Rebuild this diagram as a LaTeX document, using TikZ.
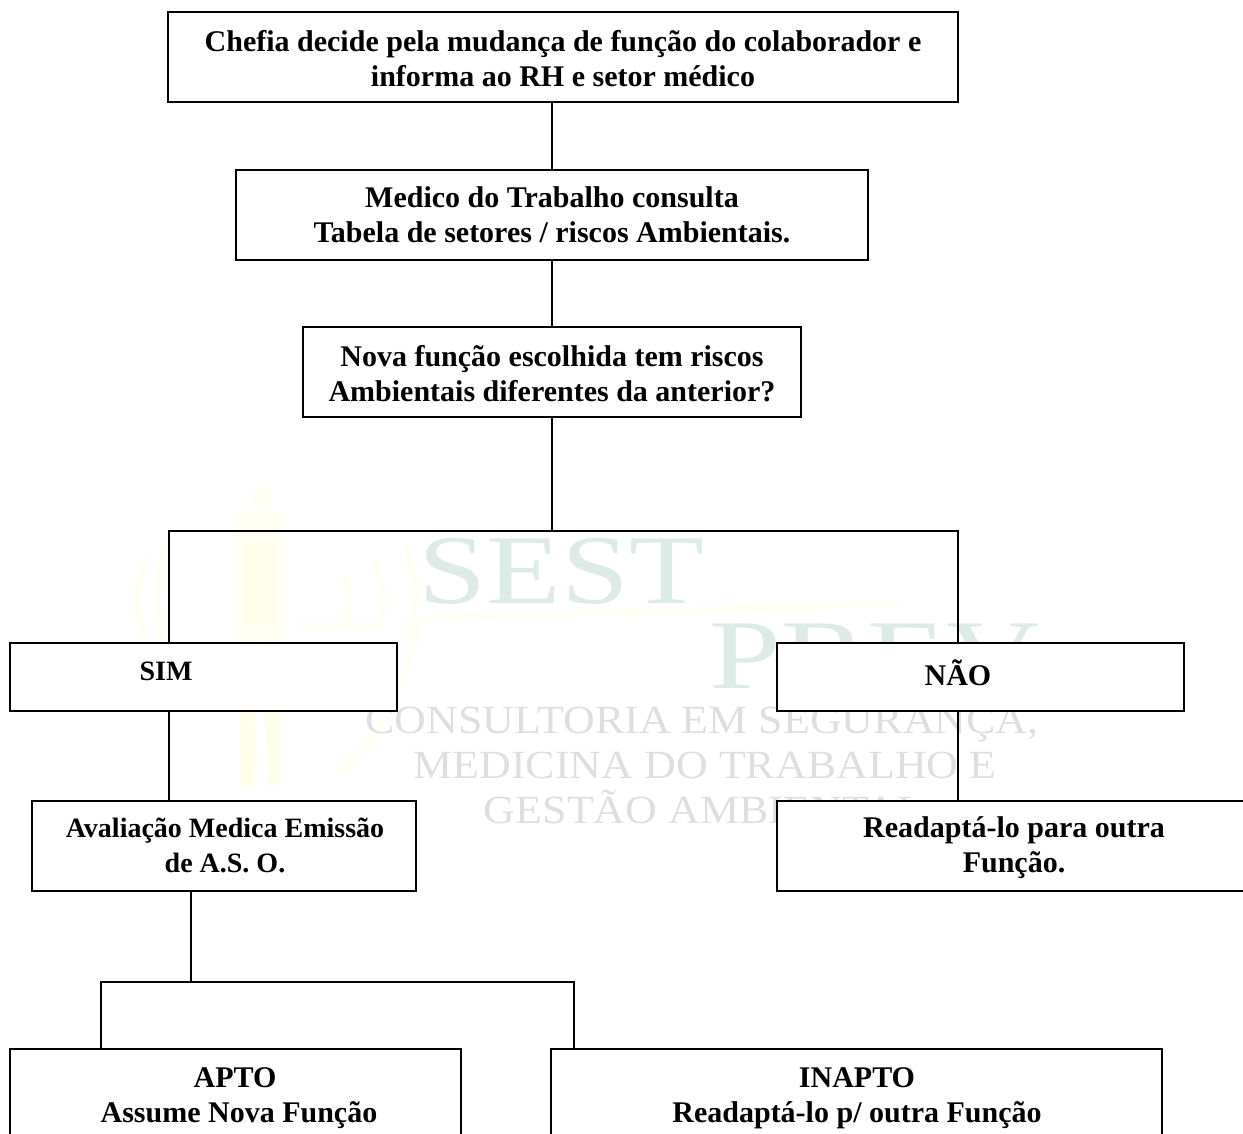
\documentclass[tikz,border=0pt]{standalone}
\usepackage{fontspec}
\setmainfont{Liberation Serif}
\definecolor{wmgreen}{HTML}{DCEBE6}
\definecolor{wmgrey}{HTML}{DEDEDE}
\definecolor{wmyellow}{HTML}{FFFEEA}
\definecolor{wmpale}{HTML}{FFFFF4}
\tikzset{
  x=0.75pt,y=-0.75pt,
  boxnode/.style={draw=black,line width=1.1pt,fill=white,rectangle,inner sep=0pt},
  lab/.style={font=\fontsize{22.5}{26.2}\selectfont\bfseries,align=center,inner sep=0pt},
  labs/.style={font=\fontsize{21}{26.2}\selectfont\bfseries,align=center,inner sep=0pt},
  conn/.style={draw=black,line width=1.1pt},
  wmbig/.style={text=wmgreen,inner sep=0pt,anchor=base,yscale=1,font=\fontsize{74}{74}\selectfont},
  wmsmall/.style={text=wmgrey,inner sep=0pt,anchor=base,xscale=1.1,font=\fontsize{30}{30}\selectfont},
  wmarc/.style={draw=wmpale,line width=5pt,line cap=round}
}
\newcommand{\bx}[5]{\node[boxnode,minimum width=#4*0.75pt-#2*0.75pt,minimum height=#5*0.75pt-#3*0.75pt] (#1) at ({(#2+#4)/2},{(#3+#5)/2}) {};}
\begin{document}
\begin{tikzpicture}
\useasboundingbox (0,0) rectangle (1243,1134);
\clip (0,0) rectangle (1243,1134);
% watermark
\fill[wmpale] (262,498) ellipse[x radius=11,y radius=12];
\fill[wmpale] (233,513) rectangle (285,640);
\fill[wmyellow] (243,540) rectangle (277,625);
\fill[wmyellow] (240,640) -- (258,640) -- (254,785) -- (240,785) -- cycle;
\fill[wmyellow] (262,640) -- (280,640) -- (280,785) -- (268,785) -- cycle;
\draw[wmarc] (145,560) .. controls (135,590) and (135,610) .. (145,640);
\draw[wmarc] (165,545) .. controls (155,580) and (155,615) .. (165,650);
\draw[wmarc] (345,575) .. controls (350,590) and (350,605) .. (345,620);
\draw[wmarc] (375,560) .. controls (385,590) and (385,610) .. (378,630);
\draw[wmarc] (405,545) .. controls (418,580) and (418,610) .. (405,640);
\draw[wmarc] (300,625) -- (370,625);
\draw[wmarc] (420,622) .. controls (405,680) and (385,730) .. (345,770);
\draw[wmarc] (420,618) .. controls (600,612) and (760,608) .. (900,604);
\node[wmbig,xscale=1.24] (wmsest) at (561,603) {SEST};
\node[wmbig,xscale=1.31] (wmprev) at (874.5,688) {PREV};
\node[wmsmall] (wmc) at (702,733) {CONSULTORIA EM SEGURANÇA,};
\node[wmsmall] (wmm) at (705,778) {MEDICINA DO TRABALHO E};
\node[wmsmall] (wmg) at (704,823) {GESTÃO AMBIENTAL};
% boxes
\bx{chefia}{168}{12}{958}{102}
\bx{medico}{236}{170}{868}{260}
\bx{nova}{303}{327}{801}{417}
\bx{sim}{10}{643}{397}{711}
\bx{nao}{777}{643}{1184}{711}
\bx{aval}{32}{801}{416}{891}
\bx{read}{777}{801}{1300}{891}
\bx{apto}{10}{1049}{461}{1200}
\bx{inapto}{551}{1049}{1162}{1200}
% junctions
\coordinate (jm) at (552,531);
\coordinate (jl) at (169,531);
\coordinate (jr) at (958,531);
\coordinate (ja) at (191,982);
\coordinate (jal) at (101,982);
\coordinate (jar) at (574,982);
% connectors
\draw[conn] (jm |- chefia.south) -- (jm |- medico.north);
\draw[conn] (jm |- medico.south) -- (jm |- nova.north);
\draw[conn] (jm |- nova.south) -- (jm);
\draw[conn] (jl |- sim.north) -- (jl) -- (jr) -- (jr |- nao.north);
\draw[conn] (jl |- sim.south) -- (jl |- aval.north);
\draw[conn] (jr |- nao.south) -- (jr |- read.north);
\draw[conn] (ja |- aval.south) -- (ja);
\draw[conn] (jal |- apto.north) -- (jal) -- (jar) -- (jar |- inapto.north);
% labels
\node[lab] (tchefia) at (563,58.5) {Chefia decide pela mudança de função do colaborador e\\informa ao RH e setor médico};
\node[lab] (tmedico) at (552,215) {Medico do Trabalho consulta\\Tabela de setores / riscos Ambientais.};
\node[lab] (tnova) at (552,374) {Nova função escolhida tem riscos\\Ambientais diferentes da anterior?};
\node[labs] (tsim) at (166,671) {SIM};
\node[lab] (tnao) at (958,673) {NÃO};
\node[labs] (taval) at (225,845) {Avaliação Medica Emissão\\de A.S. O.};
\node[lab] (tread) at (1014,848) {Readaptá-lo para outra\\Função.};
\node[lab] (tapto) at (239,1098) {APTO\hspace*{6pt}\\Assume Nova Função};
\node[lab] (tinapto) at (857,1098) {INAPTO\\Readaptá-lo p/ outra Função};
\end{tikzpicture}
\end{document}
